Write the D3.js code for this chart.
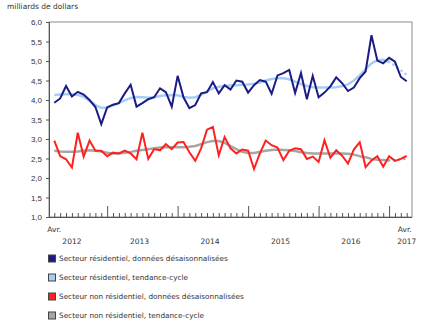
<!DOCTYPE html>
<html>
<head>
<meta charset="utf-8">
<script src="https://cdn.jsdelivr.net/npm/d3@7"></script>
<style>
  body { margin: 0; background: #fff; }
  svg { display: block; font-family: "DejaVu Sans", Verdana, sans-serif; }
</style>
</head>
<body>
<svg id="chart" width="435" height="326"></svg>
<script>
// ---- data (monthly, Apr 2012 .. Apr 2017) ----
const startYear = 2012, startMonth = 3; // April (0-based)
const yTicks = [1.0, 1.5, 2.0, 2.5, 3.0, 3.5, 4.0, 4.5, 5.0, 5.5, 6.0];
const yearLabels = ["2012", "2013", "2014", "2015", "2016", "2017"];
const unitLabel = "milliards de dollars";
const monthLabel = "Avr.";

const residentialSA = [
  3.93, 4.04, 4.36, 4.09, 4.21, 4.14, 4.00, 3.82, 3.38, 3.81, 3.88, 3.92,
  4.17, 4.39, 3.83, 3.92, 4.02, 4.07, 4.30, 4.20, 3.83, 4.62, 4.07, 3.79,
  3.87, 4.17, 4.20, 4.46, 4.17, 4.38, 4.27, 4.50, 4.47, 4.19, 4.38, 4.51,
  4.47, 4.16, 4.63, 4.69, 4.77, 4.18, 4.69, 4.02, 4.62, 4.07, 4.19, 4.35,
  4.58, 4.43, 4.23, 4.32, 4.56, 4.73, 5.66, 5.01, 4.94, 5.08, 4.98, 4.59, 4.48
];
const residentialTrend = [
  4.13, 4.14, 4.15, 4.15, 4.13, 4.08, 3.98, 3.87, 3.80, 3.81, 3.86, 3.92,
  3.99, 4.05, 4.08, 4.07, 4.06, 4.07, 4.10, 4.12, 4.13, 4.12, 4.08, 4.06,
  4.07, 4.13, 4.22, 4.30, 4.34, 4.36, 4.37, 4.38, 4.39, 4.40, 4.42, 4.45,
  4.50, 4.54, 4.56, 4.56, 4.53, 4.47, 4.41, 4.36, 4.33, 4.32, 4.32, 4.32,
  4.33, 4.35, 4.40, 4.50, 4.63, 4.79, 4.94, 5.02, 5.03, 4.98, 4.88, 4.76, 4.65
];
const nonResidentialSA = [
  2.96, 2.56, 2.48, 2.27, 3.16, 2.55, 2.96, 2.70, 2.70, 2.56, 2.65, 2.63,
  2.70, 2.63, 2.48, 3.16, 2.49, 2.74, 2.71, 2.87, 2.74, 2.91, 2.92, 2.66,
  2.44, 2.76, 3.24, 3.31, 2.58, 3.05, 2.76, 2.63, 2.73, 2.70, 2.23, 2.63,
  2.96, 2.84, 2.78, 2.46, 2.70, 2.76, 2.74, 2.49, 2.55, 2.41, 2.97, 2.52,
  2.71, 2.57, 2.37, 2.73, 2.92, 2.28, 2.45, 2.56, 2.29, 2.56, 2.44, 2.49, 2.57
];
const nonResidentialTrend = [
  2.70, 2.68, 2.67, 2.67, 2.68, 2.70, 2.71, 2.70, 2.68, 2.65, 2.63, 2.63,
  2.65, 2.67, 2.70, 2.72, 2.74, 2.76, 2.78, 2.79, 2.79, 2.79, 2.79, 2.80,
  2.82, 2.87, 2.92, 2.95, 2.95, 2.90, 2.82, 2.74, 2.67, 2.64, 2.64, 2.67,
  2.70, 2.72, 2.73, 2.72, 2.71, 2.69, 2.66, 2.64, 2.63, 2.63, 2.63, 2.63,
  2.63, 2.63, 2.62, 2.60, 2.56, 2.53, 2.49, 2.47, 2.46, 2.45, 2.46, 2.48, 2.50
];
const provisionalFrom = 57; // trend-cycle dotted from this index on

const seriesNames = [
  "Secteur résidentiel, données désaisonnalisées",
  "Secteur résidentiel, tendance-cycle",
  "Secteur non résidentiel, données désaisonnalisées",
  "Secteur non résidentiel, tendance-cycle"
];
const seriesColors = ["#1b1b86", "#a6cdf5", "#ff2020", "#a6a6a6"];

// ---- layout ----
const svg = d3.select("#chart");
const L = 49, R = 412, T = 22, B = 217;
const n = residentialSA.length;
const x = d3.scaleLinear().domain([-0.9, n - 1 + 0.9]).range([L, R]);
const y = d3.scaleLinear().domain([1, 6]).range([B, T]);

// frame
svg.append("rect").attr("x", L).attr("y", T).attr("width", R - L).attr("height", B - T)
  .attr("fill", "none").attr("stroke", "#8c8c8c").attr("stroke-width", 1);

// y axis
const yAxis = d3.axisLeft(y).tickValues(yTicks).tickSize(3).tickPadding(4)
  .tickFormat(d => d3.format(".1f")(d).replace(".", ","));
const gy = svg.append("g").attr("transform", `translate(${L},0)`).call(yAxis);
gy.select(".domain").attr("stroke", "#555");
gy.selectAll(".tick line").attr("stroke", "#555");
gy.selectAll("text").attr("font-size", "8px").attr("fill", "#333");

// x axis (ticks pointing up)
const idx = d3.range(n);
const isJan = i => (startMonth + i) % 12 === 0;
const gxMinor = svg.append("g").attr("transform", `translate(0,${B})`)
  .call(d3.axisBottom(x).tickValues(idx.filter(i => !isJan(i))).tickSize(-4).tickFormat(""));
const gxMajor = svg.append("g").attr("transform", `translate(0,${B})`)
  .call(d3.axisBottom(x).tickValues(idx.filter(isJan)).tickSize(-11).tickFormat(""));
[gxMinor, gxMajor].forEach(g => {
  g.select(".domain").attr("stroke", "#555").attr("d", `M${L},0.5H${R}`);
  g.selectAll(".tick line").attr("stroke", "#555");
});

// x labels
const labelG = svg.append("g").attr("font-size", "7.5px").attr("fill", "#333").attr("text-anchor", "middle");
labelG.append("text").attr("x", x(0)).attr("y", 232).text(monthLabel);
labelG.append("text").attr("x", x(n - 1) - 2).attr("y", 232).text(monthLabel);
yearLabels.forEach((yr, k) => {
  let xi;
  if (k === 0) xi = x(3);
  else if (k === yearLabels.length - 1) xi = x(n - 1);
  else xi = x(12 * k - startMonth + 5.5);
  labelG.append("text").attr("x", xi).attr("y", 244).text(yr);
});

// unit label
svg.append("text").attr("x", 7).attr("y", 9).attr("font-size", "7.5px").attr("fill", "#333").text(unitLabel);

// lines
const line = d3.line().x((d, i) => x(d.i)).y(d => y(d.v));
const pts = arr => arr.map((v, i) => ({ i, v }));

function drawTrend(arr, color) {
  const p = pts(arr);
  svg.append("path").datum(p.slice(0, provisionalFrom + 1)).attr("d", line)
    .attr("fill", "none").attr("stroke", color).attr("stroke-width", 2.5).attr("stroke-linejoin", "round");
  svg.append("path").datum(p.slice(provisionalFrom)).attr("d", line)
    .attr("fill", "none").attr("stroke", color).attr("stroke-width", 2.5)
    .attr("stroke-dasharray", "0.1,5").attr("stroke-linecap", "round");
}
function drawSA(arr, color) {
  svg.append("path").datum(pts(arr)).attr("d", line)
    .attr("fill", "none").attr("stroke", color).attr("stroke-width", 2).attr("stroke-linejoin", "miter");
}
drawTrend(residentialTrend, seriesColors[1]);
drawTrend(nonResidentialTrend, seriesColors[3]);
drawSA(residentialSA, seriesColors[0]);
drawSA(nonResidentialSA, seriesColors[2]);

// legend
const leg = svg.append("g").attr("font-size", "7.3px").attr("fill", "#333");
seriesNames.forEach((name, k) => {
  const cy = 258.5 + k * 19;
  leg.append("rect").attr("x", 48.5).attr("y", cy - 3.5).attr("width", 7).attr("height", 7)
    .attr("fill", seriesColors[k]).attr("stroke", "#444").attr("stroke-width", 1);
  leg.append("text").attr("x", 59).attr("y", cy + 2.6).text(name);
});
</script>
</body>
</html>
